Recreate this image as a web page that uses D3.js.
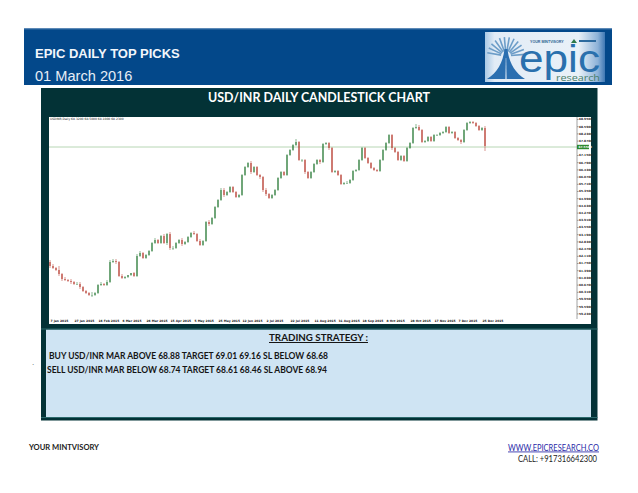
<!DOCTYPE html>
<html><head><meta charset="utf-8">
<script src="https://cdn.jsdelivr.net/npm/d3@7"></script>
<style>html,body{margin:0;padding:0;background:#fff;overflow:hidden}svg{display:block}</style>
</head><body><svg id="c" width="638" height="493"></svg>
<script>
const closes=[61.6,61.5,61.4,61.2,60.95,60.9,60.85,60.8,60.7,60.7,
60.55,60.35,60.25,60.15,60.15,60.25,60.65,60.7,60.65,60.8,
61.8,61.85,61.8,61.1,61.0,61.05,61.15,61.25,61.1,62.1,
62.25,62.0,62.15,62.35,62.75,62.9,62.75,63.1,62.75,63.2,
62.5,62.5,62.75,62.9,62.7,62.8,63.05,63.25,63.2,62.85,
62.65,62.85,63.8,63.7,64.0,64.55,64.9,65.4,65.15,65.3,
65.55,65.3,65.05,65.15,66.15,66.55,66.75,66.3,66.55,66.15,
66.05,65.4,65.2,65.0,65.15,65.4,66.0,66.3,66.15,67.15,
67.4,67.65,67.8,66.9,66.9,66.3,66.0,66.3,66.7,66.9,
66.8,67.7,67.75,67.5,66.3,66.35,66.15,65.7,65.75,65.75,
65.9,66.35,66.4,66.9,67.5,67.0,66.75,66.5,66.4,66.35,
66.9,67.4,67.75,68.15,67.5,67.3,66.9,67.1,66.85,67.5,
67.75,68.5,68.55,68.4,67.8,67.85,68.05,67.85,68.15,68.15,
68.25,68.3,68.55,68.25,68.3,68.0,67.9,67.8,68.4,68.75,
68.8,68.75,68.6,68.4,68.5,67.6];
const opens=[61.8,61.6,61.5,61.4,61.2,60.95,60.9,60.85,60.8,60.7,
60.7,60.55,60.35,60.25,60.15,60.15,60.25,60.65,60.7,60.65,
60.8,61.8,61.85,61.8,61.1,61.0,61.05,61.15,61.25,61.1,
62.1,62.25,62.0,62.15,62.35,62.75,62.9,62.75,63.1,62.75,
63.2,62.5,62.5,62.75,62.9,62.7,62.8,63.05,63.25,63.2,
62.85,62.65,62.85,63.8,63.7,64.0,64.55,64.9,65.4,65.15,
65.3,65.55,65.3,65.05,65.15,66.15,66.55,66.75,66.3,66.55,
66.15,66.05,65.4,65.2,65.0,65.15,65.4,66.0,66.3,66.15,
67.15,67.4,67.65,67.8,66.9,66.9,66.3,66.0,66.3,66.7,
66.9,66.8,67.7,67.75,67.5,66.3,66.35,66.15,65.7,65.75,
65.75,65.9,66.35,66.4,66.9,67.5,67.0,66.75,66.5,66.4,
66.35,66.9,67.4,67.75,68.15,67.5,67.3,66.9,67.1,66.85,
67.5,67.75,68.5,68.55,68.4,67.8,67.85,68.05,67.85,68.15,
68.15,68.25,68.3,68.55,68.25,68.3,68.0,67.9,67.8,68.4,
68.75,68.8,68.75,68.6,68.4,68.5];
const highs=[61.9,61.7,61.55,61.6,61.25,61.05,60.95,60.95,60.85,60.8,
60.8,60.6,60.4,60.3,60.3,60.3,60.7,60.8,60.75,60.9,
61.9,61.95,61.95,61.85,61.2,61.1,61.15,61.25,61.3,62.2,
62.35,62.3,62.2,62.4,62.8,63.0,62.95,63.15,63.2,63.25,
63.3,62.6,62.8,62.95,63.0,62.85,63.1,63.3,63.35,63.25,
62.95,62.9,63.85,63.9,64.05,64.6,64.95,65.5,65.5,65.35,
65.6,65.6,65.35,65.2,66.2,66.6,66.8,66.85,66.6,66.6,
66.2,66.1,65.5,65.25,65.2,65.45,66.05,66.35,66.35,67.2,
67.45,67.7,67.95,67.85,66.95,66.95,66.35,66.35,66.75,66.95,
66.95,67.75,67.8,67.8,67.55,66.4,66.4,66.2,65.8,65.85,
65.95,66.4,66.45,66.95,67.55,67.55,67.05,66.8,66.55,66.45,
66.95,67.45,67.8,68.2,68.2,67.55,67.35,67.15,67.15,67.55,
67.8,68.55,68.7,68.65,68.45,67.9,68.1,68.1,68.2,68.2,
68.3,68.35,68.6,68.6,68.35,68.35,68.05,67.95,68.45,68.8,
68.85,68.85,68.8,68.65,68.55,68.6];
const lows=[61.5,61.45,61.35,61.1,60.85,60.85,60.8,60.7,60.65,60.65,
60.45,60.3,60.2,60.1,60.05,60.1,60.2,60.6,60.6,60.6,
60.75,61.75,61.7,61.05,60.95,60.95,61.0,61.1,61.05,61.05,
62.05,61.95,61.95,62.1,62.3,62.7,62.7,62.7,62.7,62.65,
62.4,62.4,62.45,62.7,62.6,62.65,62.75,63.0,63.15,62.8,
62.6,62.6,62.8,63.6,63.65,63.95,64.5,64.85,65.05,65.1,
65.25,65.25,65.0,65.0,65.1,66.1,66.5,66.2,66.25,66.1,
65.95,65.3,65.1,64.95,64.95,65.1,65.35,65.95,66.1,66.1,
67.1,67.35,67.6,66.85,66.8,66.2,65.95,65.95,66.25,66.65,
66.7,66.75,67.65,67.4,66.25,66.25,66.1,65.65,65.65,65.7,
65.7,65.85,66.3,66.35,66.85,66.95,66.7,66.45,66.35,66.3,
66.3,66.85,67.35,67.7,67.4,67.25,66.85,66.85,66.8,66.8,
67.45,67.7,68.45,68.35,67.75,67.75,67.8,67.8,67.8,68.1,
68.1,68.2,68.25,68.2,68.2,67.95,67.85,67.7,67.75,68.35,
68.7,68.7,68.55,68.35,68.35,67.35];
const priceTicks=[68.95,68.59,68.23,67.87,67.15,66.79,66.43,66.07,65.71,65.35,64.99,64.63,64.27,63.91,63.55,63.19,62.83,62.47,62.11,61.75,61.39,61.03,60.67,60.31,59.95,59.59,59.23];
const lastPrice=67.55;
const dateLabels=["7 Jan 2015","27 Jan 2015","16 Feb 2015","6 Mar 2015","26 Mar 2015","15 Apr 2015","5 May 2015","25 May 2015","12 Jun 2015","2 Jul 2015","22 Jul 2015","11 Aug 2015","31 Aug 2015","18 Sep 2015","8 Oct 2015","28 Oct 2015","17 Nov 2015","7 Dec 2015","25 Dec 2015"];
const strategy=["BUY USD/INR MAR ABOVE 68.88 TARGET 69.01 69.16 SL BELOW 68.68","SELL USD/INR MAR BELOW 68.74 TARGET 68.61 68.46 SL ABOVE 68.94"];
const rayAngles=[-80,-65,-50,-35,-20,-5,10,25,40,55,70,85];

const svg=d3.select("#c");
const defs=svg.append("defs");
const g1=defs.append("linearGradient").attr("id","logoG").attr("x1",0).attr("x2",1).attr("y1",0).attr("y2",0);
[[0,"#a9c9e6"],[.08,"#e2ecf6"],[.78,"#e9f1f8"],[.94,"#8db2d8"],[1,"#3f78b4"]].forEach(s=>g1.append("stop").attr("offset",s[0]).attr("stop-color",s[1]));

const rect=(x,y,w,h,f)=>svg.append("rect").attr("x",x).attr("y",y).attr("width",w).attr("height",h).attr("fill",f);
const text=(s,x,y,o)=>{const t=svg.append("text").attr("x",x).attr("y",y).text(s);
  Object.entries(o).forEach(([k,v])=>t.attr(k,v));return t;};

rect(24,28.5,588,56.5,"#03488a");
rect(24,28.5,588,1,"#3a70a8");
text("EPIC DAILY TOP PICKS",35,58,{"font-family":"Liberation Sans","font-weight":"bold","font-size":13,fill:"#f2f6fb"});
text("01 March 2016",35,81,{"font-family":"Liberation Sans","font-size":14.6,fill:"#e6edf6"});

// logo
rect(485,32,120,50,"url(#logoG)");
rayAngles.forEach(a=>{const r=a*Math.PI/180;
  svg.append("line").attr("x1",506+5*Math.sin(r)).attr("y1",56-5*Math.cos(r)).attr("x2",506+19*Math.sin(r)).attr("y2",56-19*Math.cos(r)).attr("stroke","#6c9dc8").attr("stroke-width",1.6);});
svg.append("path").attr("d","M487 79 C497 73 503 63 504.5 49 L507.5 49 C509 63 515 73 525 79 Z").attr("fill","#2b6fb0");
svg.append("path").attr("d","M505.4 79 L505.8 58 L506.2 58 L506.6 79 Z").attr("fill","#e2ecf6");
text("epic",519,72,{"font-family":"Liberation Sans","font-size":38,fill:"#2a70ad",textLength:81,lengthAdjust:"spacingAndGlyphs"});
text("research",556,81,{"font-family":"Open Sans","font-size":8.5,fill:"#4a7f6a",textLength:44,lengthAdjust:"spacingAndGlyphs"});
text("YOUR MINTVISORY",530,43,{"font-family":"Liberation Sans","font-weight":"bold","font-size":3.6,fill:"#2c5f92"});
svg.append("path").attr("d","M571 43 L574 39 L577 43 Z").attr("fill","#2f7a4a");
rect(579,40,17,2,"#2c6a9e");

// panel
rect(41,88,556.5,332.5,"#033236");
rect(49,117,542,207,"#fff");
rect(46,329.5,545,87.5,"#cfe4f3");
rect(41,328.5,556.5,1,"#2c6a6c");
rect(41,417,556.5,1,"#2c6a6c");
text("USD/INR DAILY CANDLESTICK CHART",319,102,{"font-family":"Lato","font-weight":"bold","font-size":13,fill:"#fff","text-anchor":"middle",textLength:222,lengthAdjust:"spacingAndGlyphs"});

// chart
const y=d3.scaleLinear().domain([60,68.8]).range([298,122]);
const x=d3.scaleLinear().domain([0,closes.length-1]).range([50,485]);
svg.append("line").attr("x1",49).attr("x2",577).attr("y1",y(lastPrice)).attr("y2",y(lastPrice)).attr("stroke","#b7d6b4").attr("stroke-width",1);
const cs=svg.append("g").selectAll("g").data(closes).join("g");
const col=(i)=>closes[i]>=opens[i]?"#1a7028":"#b02a1e";
cs.append("line").attr("x1",(d,i)=>x(i)).attr("x2",(d,i)=>x(i)).attr("y1",(d,i)=>y(highs[i])).attr("y2",(d,i)=>y(lows[i])).attr("stroke",(d,i)=>col(i)).attr("stroke-width",.5);
cs.append("rect").attr("x",(d,i)=>x(i)-.5).attr("width",1)
  .attr("y",(d,i)=>y(Math.max(opens[i],closes[i])))
  .attr("height",(d,i)=>Math.max(.5,Math.abs(y(opens[i])-y(closes[i]))))
  .attr("fill",(d,i)=>col(i));

const right=svg.append("g").attr("transform","translate(577,0)")
  .call(d3.axisRight(y).tickValues(priceTicks).tickSize(1.5).tickPadding(0.5).tickFormat(d3.format(".4f")));
right.select(".domain").remove();
svg.append("line").attr("x1",577).attr("x2",577).attr("y1",117).attr("y2",319).attr("stroke","#8a8a8a").attr("stroke-width",.8);
right.selectAll("text").attr("font-family","DejaVu Sans").attr("font-size",2.9).attr("font-weight","bold").attr("fill","#222");
right.selectAll("line").attr("stroke","#333").attr("stroke-width",.5);
rect(577,y(lastPrice)-2.2,12,4.4,"#2f8a2f");
text(d3.format(".4f")(lastPrice),578.5,y(lastPrice)+1,{"font-family":"DejaVu Sans","font-size":2.9,"font-weight":"bold",fill:"#fff"});
text("USDINR,Daily  68.3200 68.5000 68.1000 68.2300",50,120,{"font-family":"DejaVu Sans","font-size":3,fill:"#222"});

const bx=d3.scalePoint().domain(dateLabels).range([50,482]);
const bottom=svg.append("g").attr("transform","translate(0,320)").call(d3.axisBottom(bx).tickSize(0).tickPadding(0));
bottom.select(".domain").remove();
bottom.selectAll("text").attr("font-family","DejaVu Sans").attr("font-size",3).attr("font-weight","bold").attr("fill","#222").attr("text-anchor","start");

// strategy
text("TRADING STRATEGY :",318.5,341,{"font-family":"Lato","font-weight":"bold","font-size":10,fill:"#151515","text-anchor":"middle","text-decoration":"underline",textLength:99,lengthAdjust:"spacingAndGlyphs"});
const lineX=[49,47],lineY=[359,372.7],lineW=[279,280];
strategy.forEach((s,i)=>text(s,lineX[i],lineY[i],{"font-family":"Lato","font-weight":"bold","font-size":9,fill:"#151515",textLength:lineW[i],lengthAdjust:"spacingAndGlyphs"}));
text(".",32,365,{"font-family":"Liberation Sans","font-size":8,fill:"#555"});

// footer
text("YOUR MINTVISORY",29,450,{"font-family":"Lato","font-weight":"bold","font-size":8,fill:"#222",textLength:70,lengthAdjust:"spacingAndGlyphs"});
text("WWW.EPICRESEARCH.CO",508,450.5,{"font-family":"Lato","font-size":8.5,fill:"#2a2aa8","text-decoration":"underline",textLength:91,lengthAdjust:"spacingAndGlyphs"});
text("CALL: +917316642300",518,461.5,{"font-family":"Lato","font-size":8.5,fill:"#222",textLength:79,lengthAdjust:"spacingAndGlyphs"});
</script></body></html>
